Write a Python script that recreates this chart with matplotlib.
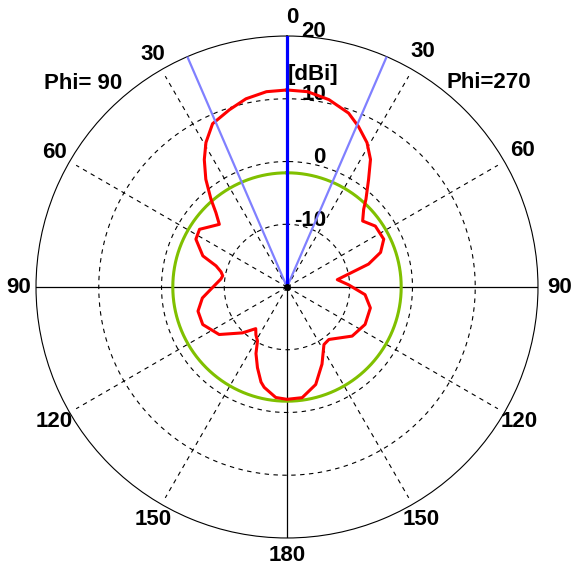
import numpy as np
import matplotlib.pyplot as plt

# radiation pattern, gain in dBi vs angle from the top
# left half = plane Phi=90, right half = plane Phi=270
left_angle = [0, 6, 12.3, 18, 24.5, 29.3, 33, 37, 40.9, 43.7, 47.2, 52, 56.6,
              62.3, 69.7, 73.4, 77, 80.1, 83, 91.5, 97.4, 105.2, 114, 125,
              135.8, 143.1, 147, 151.3, 155, 159.9, 164.7, 167.2, 174.2, 180]
left_gain = [11.4, 11.3, 10.7, 9.7, 8.6, 6.4, 4.2, 1.5, -1.5, -3.6, -5.3, -4.4,
             -3.3, -3.6, -5.7, -8.2, -9.2, -9.6, -9.4, -7.9, -6.4, -5.3, -5.3,
             -6.8, -9.8, -11.7, -10.9, -10.2, -8.3, -6.3, -4.3, -3.6, -2.3, -2.1]

right_angle = [0, 6, 12.6, 19.5, 24, 29, 33.2, 37.2, 42, 44.6, 48.9, 55.4, 63.7,
               69.7, 74.3, 77.3, 81.7, 87.9, 95.6, 104.1, 115.6, 127, 141.4,
               147.3, 155.6, 163.6, 172.2, 180]
right_gain = [11.4, 11.3, 10.6, 9.4, 8.0, 6.3, 4.3, 1.5, -1.2, -2.6, -4.0, -2.9,
              -2.8, -4.1, -6.5, -9.4, -11.9, -10.2, -7.5, -6.3, -6.2, -7.0, -9.3,
              -9.1, -6.5, -3.8, -2.2, -2.1]

iso_gain = -1.8                # green reference circle
beam_width = 23.4              # half power lines, each side of 0
ring_levels = [-10, 0, 10, 20]
angle_ticks = [30, 60, 90, 120, 150]
r_min, r_max = -20, 20


def main():
    fig = plt.figure(figsize=(5.74, 5.69), dpi=100)
    ax = fig.add_axes([0.0627, 0.0545, 0.8746, 0.8822], projection='polar')
    ax.set_theta_zero_location('N')
    ax.set_theta_direction(1)
    ax.set_ylim(r_min, r_max)
    ax.grid(False)
    ax.set_xticks([])
    ax.set_yticks([])
    ax.spines['polar'].set_linewidth(0.8)
    ax.spines['polar'].set_color('black')

    tt = np.linspace(0, 2 * np.pi, 721)
    dash = (0, (4, 4))

    # dashed rings and spokes
    for lev in ring_levels[:-1]:
        ax.plot(tt, np.full_like(tt, lev), color='black', lw=0.8, ls=dash, zorder=1)
    for a in range(30, 360, 30):
        if a % 90 == 0:
            continue
        ax.plot([np.deg2rad(a)] * 2, [r_min, 18.8], color='black', lw=0.8,
                ls=dash, zorder=1)
    # solid cross
    for a in [0, 90, 180, 270]:
        ax.plot([np.deg2rad(a)] * 2, [r_min, r_max], color='black', lw=0.9, zorder=1)

    # isotropic circle
    ax.plot(tt, np.full_like(tt, iso_gain), color='#80c000', lw=2.2, zorder=3)

    # pattern, left half then right half back up
    theta = np.concatenate([np.deg2rad(left_angle),
                            np.deg2rad(360 - np.array(right_angle[::-1]))])
    gain = np.concatenate([left_gain, right_gain[::-1]])
    ax.plot(theta, gain, color='#ff0000', lw=2.2, zorder=4)

    # beam direction and half power lines
    for a in [beam_width, -beam_width]:
        ax.plot([np.deg2rad(a)] * 2, [r_min, r_max], color='#8080ff', lw=1.6, zorder=5)
    ax.plot([0, 0], [r_min, r_max], color='#0000ff', lw=2.3, zorder=6)
    ax.plot([0], [r_min], 'o', color='black', ms=4, zorder=7)

    font = dict(family=['Liberation Sans', 'DejaVu Sans'], fontsize=16,
                fontweight='bold', color='black')

    # angle labels, the right ones sit a bit further out
    r_lab = 22.8
    ax.text(np.deg2rad(-1.1), 23.0, '0', ha='center', va='center', **font)
    ax.text(np.pi, r_lab, '180', ha='center', va='center', **font)
    for a in angle_ticks:
        ax.text(np.deg2rad(a), r_lab, str(a), ha='center', va='center', **font)
        r_right = r_lab + 0.6 if a <= 90 else r_lab
        ax.text(np.deg2rad(360 - a), r_right, str(a), ha='center', va='center', **font)
    ax.text(np.deg2rad(45.1), 25.9, 'Phi= 90', ha='center', va='center', **font)
    ax.text(np.deg2rad(-44.6), 25.7, 'Phi=270', ha='center', va='center', **font)

    # radial labels, right aligned beside the axis
    for lev in ring_levels:
        ax.annotate(str(lev), xy=(0, lev), xytext=(28, 3.0),
                    textcoords='offset points', ha='right', va='center',
                    zorder=2, **font)
    ax.annotate('[dBi]', xy=(0, 13.9), xytext=(0.7, 0), textcoords='offset points',
                ha='left', va='center', zorder=2, **font)

    fig.savefig('out.png', dpi=100, facecolor='white')


if __name__ == '__main__':
    main()
